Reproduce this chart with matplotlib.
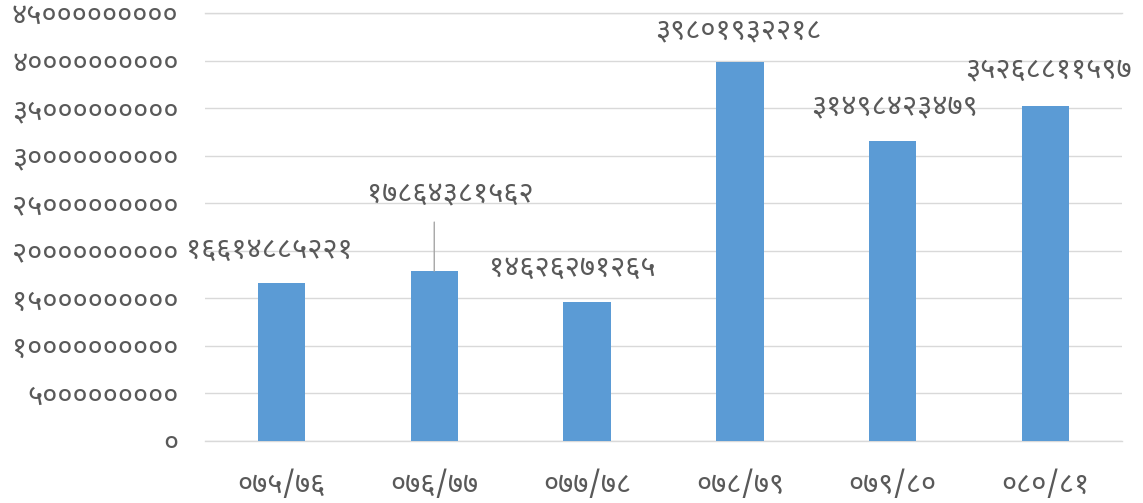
import matplotlib
matplotlib.use("Agg")
import matplotlib.pyplot as plt
import numpy as np

categories = ["०७५/७६", "०७६/७७", "०७७/७८", "०७८/७९", "०७९/८०", "०८०/८१"]
values = [16614885221, 17864381562, 14626271265, 39801932218, 31498423479, 35268811597]
yticks = [0, 5e9, 10e9, 15e9, 20e9, 25e9, 30e9, 35e9, 40e9, 45e9]

DEV = str.maketrans("0123456789", "०१२३४५६७८९")
def dev(n):
    return str(int(n)).translate(DEV)

fam = ['Noto Sans Devanagari', 'Mukta', 'Hind', 'FreeSans', 'DejaVu Sans']
plt.rcParams['font.family'] = fam
txt = '#595959'
FS = 21

fig = plt.figure(figsize=(11.43, 5.03), dpi=100)
ax = fig.add_axes([205/1143, 1-441/503, (1122-205)/1143, (441-13)/503])
x = np.arange(len(categories))
ax.bar(x, values, width=0.31, color='#5B9BD5', zorder=3)
ax.set_xlim(-0.5, len(categories)-0.5)
ax.set_ylim(0, 45e9)
ax.set_yticks(yticks)
ax.set_yticklabels([dev(t) for t in yticks], color=txt, fontsize=FS)
ax.set_xticks(x)
ax.set_xticklabels(categories, color=txt, fontsize=FS)
ax.tick_params(axis='both', length=0)
ax.tick_params(axis='y', pad=19)
ax.tick_params(axis='x', pad=21)
ax.grid(axis='y', color='#d9d9d9', linewidth=1, zorder=0)
for yt in [0, 45e9]:
    ax.axhline(yt, color='#d9d9d9', linewidth=1, zorder=0, clip_on=False)
for s in ax.spines.values():
    s.set_visible(False)

# label offsets in pixels (dx, dy above bar top)
offs = [(-12, 33), (16, 76), (-15, 33), (-2, 32), (2, 34), (3, 36)]
for i, v in enumerate(values):
    dx, dy = offs[i]
    ax.annotate(dev(v), xy=(i, v), xytext=(dx, dy), textcoords='offset pixels',
                ha='center', va='center', fontsize=FS, color=txt)
# leader line for second label
ax.annotate('', xy=(1, values[1]), xytext=(0, 49), textcoords='offset pixels',
            arrowprops=dict(arrowstyle='-', color='#a6a6a6', lw=1, shrinkA=0, shrinkB=0))

fig.savefig("out.png")
